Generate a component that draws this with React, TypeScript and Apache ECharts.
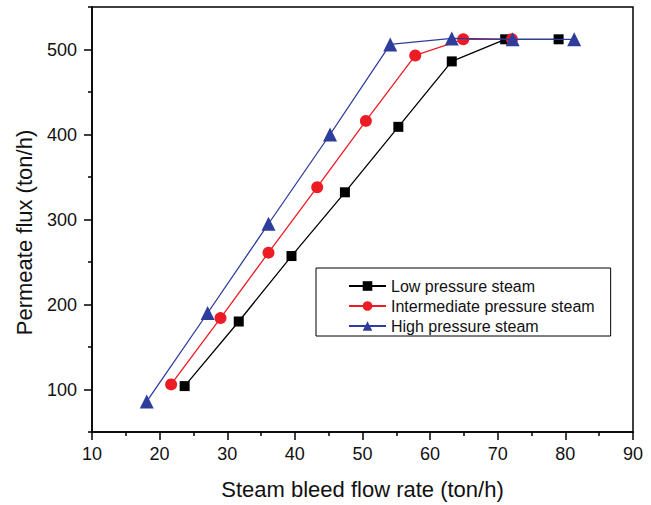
import React, { useEffect, useRef } from "react";
import * as echarts from "echarts";

const lowX = [23.7, 31.7, 39.5, 47.4, 55.3, 63.2, 71.1, 79.0];
const lowY = [104, 180, 257, 332, 409, 486, 512, 512];
const midX = [21.7, 29.0, 36.1, 43.3, 50.5, 57.8, 64.9, 72.1];
const midY = [106, 184, 261, 338, 416, 493, 512, 512];
const highX = [18.1, 27.1, 36.1, 45.2, 54.1, 63.2, 72.2, 81.3];
const highY = [86, 190, 295, 400, 506, 513, 512, 512];

const seriesNames = ["Low pressure steam", "Intermediate pressure steam", "High pressure steam"];
const yMajorTicks = [100, 200, 300, 400, 500];
const yMinorTicks = [50, 150, 250, 350, 450, 550];

const FONT = "'Liberation Sans', Arial, sans-serif";

function pairs(xs: number[], ys: number[]) {
  return xs.map((x, i) => [x, ys[i]]);
}

export default function App() {
  const ref = useRef<HTMLDivElement>(null);
  useEffect(() => {
    if (!ref.current) return;
    const chart = echarts.init(ref.current, undefined, { renderer: "svg" });
    const colors = ["#000000", "#ed1c24", "#2e3c9c"];
    const symbols = ["rect", "circle", "triangle"];
    const sizes = [10, 12, 14];
    const data = [pairs(lowX, lowY), pairs(midX, midY), pairs(highX, highY)];
    chart.setOption({
      animation: false,
      backgroundColor: "#ffffff",
      grid: {
        left: 92,
        right: 18,
        top: 7,
        bottom: 72,
        show: true,
        borderColor: "#000",
        borderWidth: 1.5,
      },
      legend: {
        left: 316,
        top: 268,
        orient: "vertical",
        data: seriesNames,
        itemWidth: 37,
        itemHeight: 12,
        itemGap: 4,
        padding: [10, 16, 2, 32],
        borderColor: "#000",
        borderWidth: 1,
        textStyle: { fontFamily: FONT, fontSize: 16, color: "#111", lineHeight: 16 },
      },
      xAxis: {
        type: "value",
        min: 10,
        max: 90,
        interval: 10,
        name: "Steam bleed flow rate (ton/h)",
        nameLocation: "middle",
        nameGap: 46,
        nameTextStyle: { fontFamily: FONT, fontSize: 22, color: "#111" },
        axisLine: { show: true, lineStyle: { color: "#000", width: 1.5 } },
        axisTick: { show: true, length: 8, lineStyle: { color: "#000", width: 1.5 } },
        minorTick: { show: true, splitNumber: 2, length: 4, lineStyle: { color: "#000", width: 1.5 } },
        axisLabel: { fontFamily: FONT, fontSize: 18, color: "#111", margin: 13 },
        splitLine: { show: false },
      },
      yAxis: [
        {
          type: "value",
          min: 50,
          max: 550,
          interval: 50,
          name: "Permeate flux (ton/h)",
          nameLocation: "middle",
          nameGap: 57,
          nameTextStyle: { fontFamily: FONT, fontSize: 22, color: "#111", padding: [0, 26, 0, 0] },
          axisLine: { show: true, lineStyle: { color: "#000", width: 1.5 } },
          axisTick: { show: true, length: 8, customValues: yMajorTicks, lineStyle: { color: "#000", width: 1.5 } },
          axisLabel: { fontFamily: FONT, fontSize: 18, color: "#111", margin: 15, customValues: yMajorTicks },
          splitLine: { show: false },
        },
        {
          type: "value",
          min: 50,
          max: 550,
          interval: 50,
          position: "left",
          axisLine: { show: false },
          axisTick: { show: true, length: 4, customValues: yMinorTicks, lineStyle: { color: "#000", width: 1.5 } },
          axisLabel: { show: false },
          splitLine: { show: false },
        },
      ],
      series: seriesNames.map((name, i) => ({
        name,
        type: "line",
        yAxisIndex: 0,
        data: data[i],
        symbol: symbols[i],
        symbolSize: sizes[i],
        showSymbol: true,
        color: colors[i],
        itemStyle: { color: colors[i] },
        lineStyle: { color: colors[i], width: 1.3 },
        z: i === 2 ? 3 : 2,
      })),
    });
    return () => chart.dispose();
  }, []);
  return (
    <div
      ref={ref}
      style={{ position: "fixed", left: 0, top: 0, width: 651, height: 505 }}
    />
  );
}
